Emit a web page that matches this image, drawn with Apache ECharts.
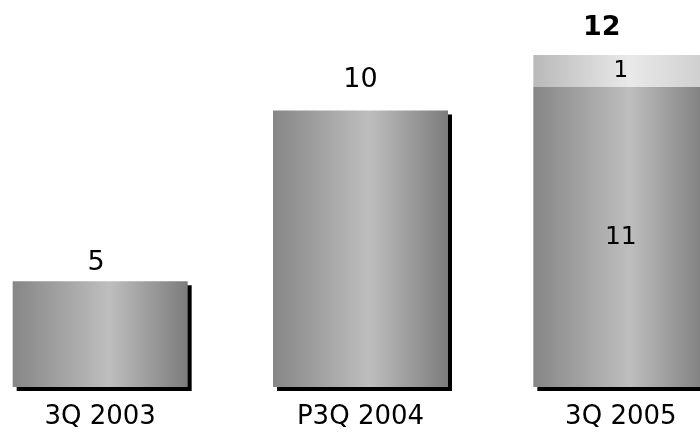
<!DOCTYPE html>
<html>
<head>
<meta charset="utf-8">
<script src="https://cdn.jsdelivr.net/npm/echarts@6/dist/echarts.min.js"></script>
<style>html,body{margin:0;padding:0;background:#fff}#c{width:700px;height:433px}</style>
</head>
<body>
<div id="c"></div>
<script>
// Categories
const categories = ['3Q 2003', 'P3Q 2004', '3Q 2005'];
// Bar heights as drawn in the picture (axis units)
const baseHeights = [3.83, 10.0, 10.85];
const topHeights = [null, null, 1.16];
// Value labels printed on the picture
const baseLabels = ['5', '10', '11'];
const topLabels = ['', '', '1'];
const totalLabels = ['', '', '12'];

const FONT = 'DejaVu Sans';
const mainGrad = {type:'linear',x:0,y:0,x2:1,y2:0,colorStops:[
  {offset:0,color:'#868686'},{offset:0.55,color:'#bebebe'},{offset:1,color:'#7c7c7c'}]};
const topGrad = {type:'linear',x:0,y:0,x2:1,y2:0,colorStops:[
  {offset:0,color:'#b9b9b9'},{offset:0.55,color:'#e9e9e9'},{offset:1,color:'#cdcdcd'}]};

const labelDist = [5, 17, 0];
const labelShift = [-4, 0, 0];
const baseData = baseHeights.map((v,i)=>({
  value: v,
  label: i === 2
    ? {show:true, position:'inside', formatter: baseLabels[i], fontSize:25, color:'#000', fontFamily:FONT}
    : {show:true, position:'top', distance: labelDist[i], offset:[labelShift[i],0], formatter: baseLabels[i], fontSize:27, color:'#000', fontFamily:FONT}
}));
const totalData = categories.map((c,i)=> topHeights[i] == null ? null : baseHeights[i] + topHeights[i]);

const chart = echarts.init(document.getElementById('c'), null, {renderer:'canvas'});
chart.setOption({
  animation:false,
  backgroundColor:'#fff',
  grid:{left:-30, width:781, top:0, bottom:46, outerBoundsMode:'none', containLabel:false},
  xAxis:{type:'category', data:categories, axisLine:{show:false}, axisTick:{show:false},
    axisLabel:{fontSize:26, color:'#000', fontFamily:FONT, margin:17}},
  yAxis:{type:'value', min:0, max:14, show:false, splitLine:{show:false}},
  series:[
    {type:'bar', stack:'s', barWidth:175, data:baseData,
     itemStyle:{color:mainGrad, shadowColor:'#000', shadowBlur:0, shadowOffsetX:4, shadowOffsetY:4}},
    {type:'bar', stack:'s', barWidth:175, data:topHeights,
     itemStyle:{color:topGrad},
     label:{show:true, position:'inside', formatter:(p)=>topLabels[p.dataIndex], fontSize:23, color:'#000', fontFamily:FONT}},
    {type:'scatter', symbolSize:0, data:totalData, itemStyle:{opacity:1},
     label:{show:true, position:'top', distance:14, offset:[-19,0], formatter:(p)=>totalLabels[p.dataIndex], fontSize:27, fontWeight:'bold', color:'#000', fontFamily:FONT}}
  ]
});
</script>
</body>
</html>
